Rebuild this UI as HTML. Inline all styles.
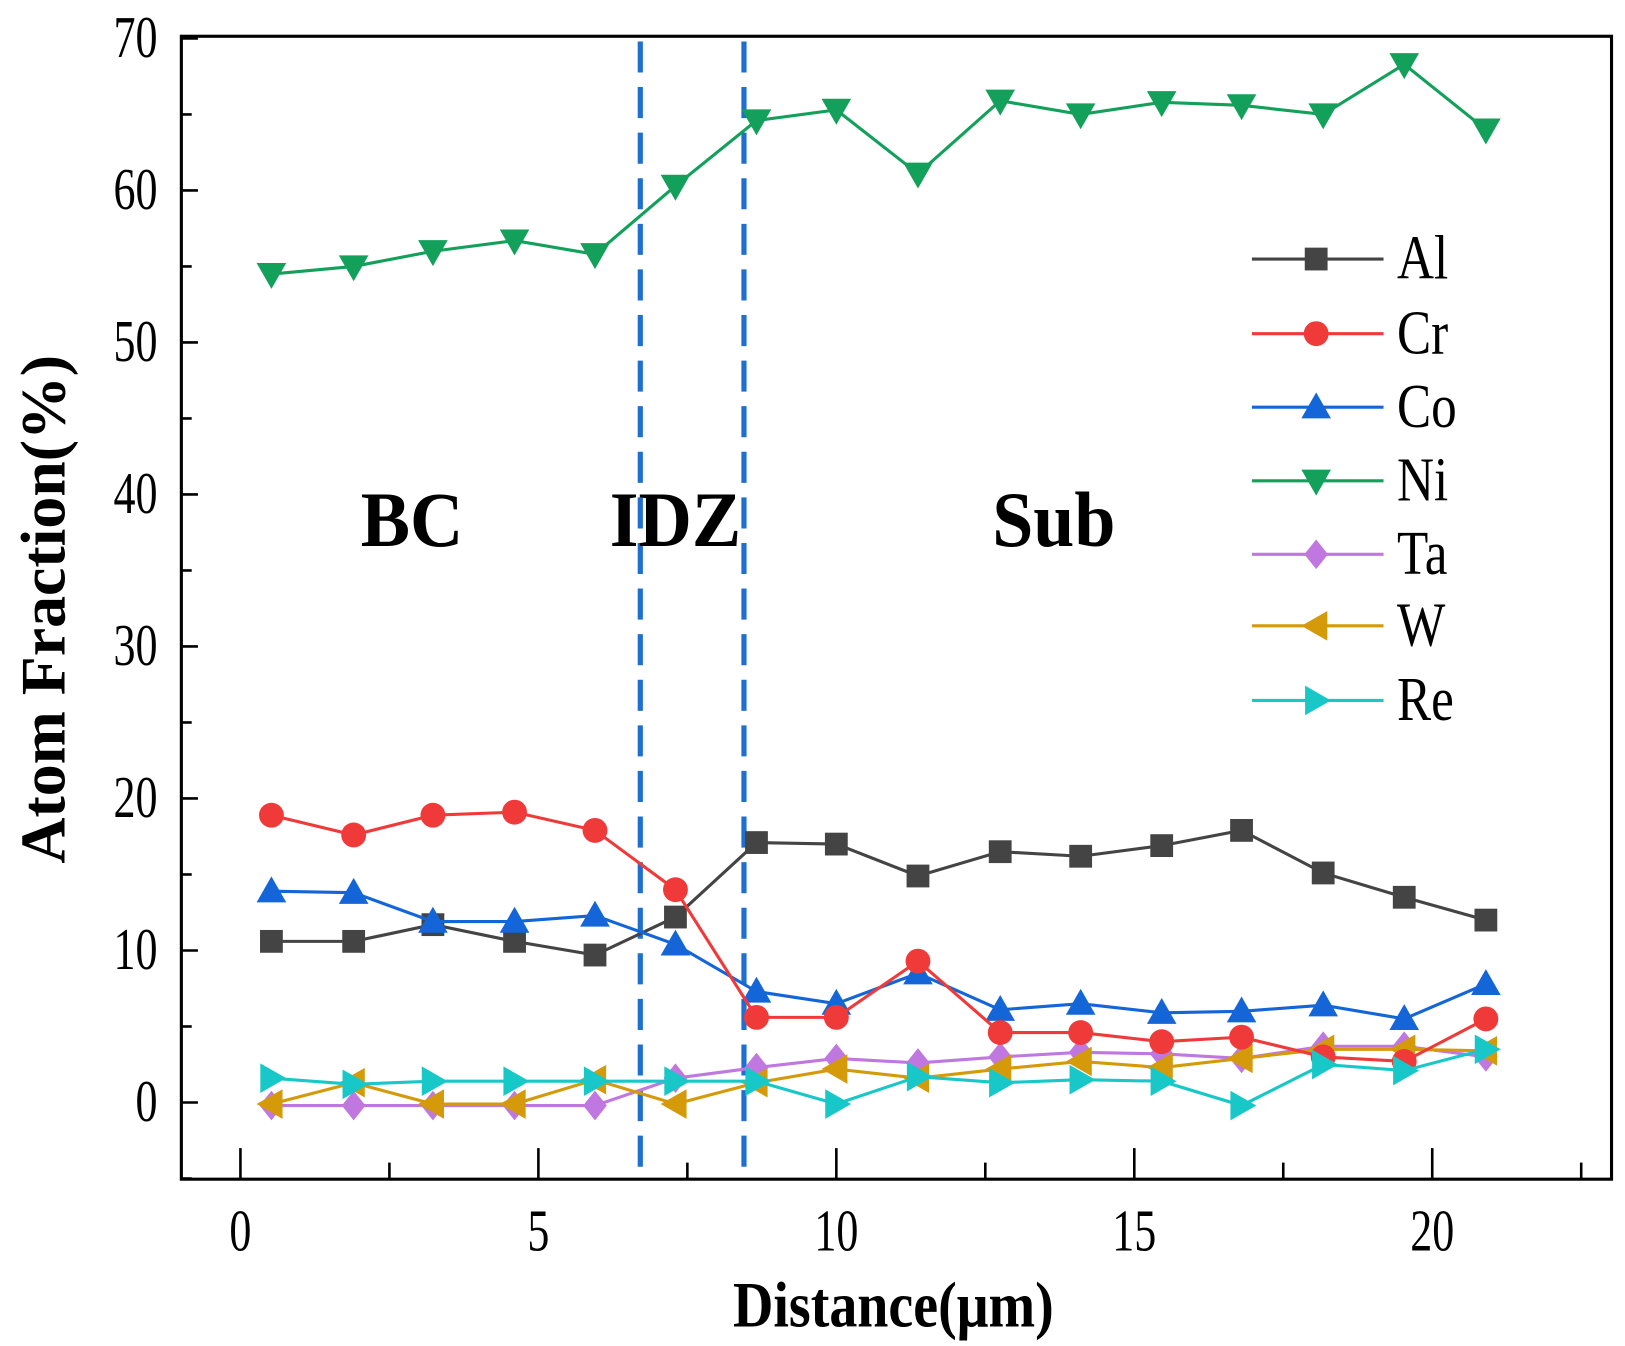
<!DOCTYPE html>
<html><head><meta charset="utf-8"><style>
html,body{margin:0;padding:0;background:#fff;}
svg{display:block;}
text{font-family:"Liberation Serif",serif;}
</style></head><body>
<svg id="chart" width="1625" height="1346" viewBox="0 0 1568 1299" preserveAspectRatio="none" xmlns="http://www.w3.org/2000/svg">
<g id="g"></g>
</svg>
<script>
const xs = [0.52,1.9,3.23,4.6,5.95,7.3,8.66,10.0,11.37,12.75,14.1,15.46,16.8,18.17,19.53,20.9];
const seriesNames = ['Al','Cr','Co','Ni','Ta','W','Re'];
const al = [10.6,10.6,11.7,10.6,9.7,12.2,17.1,17.0,14.9,16.5,16.2,16.9,17.9,15.1,13.5,12.0];
const cr = [18.9,17.6,18.9,19.1,17.9,14.0,5.6,5.6,9.3,4.6,4.6,4.0,4.3,3.0,2.7,5.5];
const co = [13.9,13.8,11.9,11.9,12.3,10.4,7.3,6.5,8.5,6.1,6.5,5.9,6.0,6.4,5.5,7.8];
const ni = [54.5,55.0,56.0,56.7,55.8,60.3,64.6,65.3,61.1,65.9,65.0,65.8,65.6,65.0,68.3,64.0];
const ta = [-0.2,-0.2,-0.2,-0.2,-0.2,1.6,2.3,2.9,2.6,3.0,3.3,3.2,2.9,3.7,3.7,3.0];
const w  = [-0.1,1.3,-0.1,-0.1,1.5,-0.1,1.3,2.2,1.6,2.2,2.7,2.3,2.9,3.5,3.5,3.4];
const re = [1.6,1.2,1.4,1.4,1.4,1.4,1.4,-0.1,1.7,1.3,1.5,1.4,-0.2,2.5,2.1,3.5];
const xTicks = [0,5,10,15,20];
const yTicks = [0,10,20,30,40,50,60,70];
const boundaries = [6.71,8.45];
const regions = [['BC',2.88],['IDZ',7.3],['Sub',13.65]];

const NS='http://www.w3.org/2000/svg';
const g=document.getElementById('g');
const L=175,R=1555,T=35,B=1138;
const X=v=>232+v*57.5;
const Y=v=>1064-v*14.67;
function el(t,a,p){const e=document.createElementNS(NS,t);for(const k in a)e.setAttribute(k,a[k]);(p||g).appendChild(e);return e;}
function stext(x,y,size,anchor,weight,sx,sy,p){
  return el('text',{x:0,y:0,'font-size':size,'text-anchor':anchor,'font-weight':weight,fill:'#000',transform:`translate(${x},${y}) scale(${sx},${sy})`},p);
}

const fr=el('rect',{x:L,y:T,width:R-L,height:B-T,fill:'none',stroke:'#000','stroke-width':3});



for(let v=0;v<=23;v+=2.5){
  const major = Math.abs(v%5)<1e-6;
  const t=el('line',{x1:X(v),x2:X(v),y1:B,y2:B-(major?30:16),stroke:'#000','stroke-width':2.5});
  
  
}
xTicks.forEach(v=>{
  const t=stext(X(v),1207,50,'middle','normal',0.85,1.15);
  t.textContent=v;
  
  
});
for(let v=-5;v<=70;v+=5){
  const major=v%10===0;
  const t=el('line',{x1:L,x2:L+(major?16:10),y1:Y(v),y2:Y(v),stroke:'#000','stroke-width':2.5});
  
  
}
yTicks.forEach(v=>{
  const t=stext(152,Y(v)+18,50,'end','normal',0.85,1.15);
  t.textContent=v;
  
  
});
const xt=stext(862,1280,54,'middle','bold',1.0,1.15);
xt.textContent='Distance(μm)';


const yt=el('text',{x:0,y:0,'font-size':56,'font-weight':'bold','text-anchor':'middle',fill:'#000',transform:'translate(62,588) rotate(-90) scale(1.1,1.1)'});
yt.textContent='Atom Fraction(%)';



boundaries.forEach(v=>{
  const d=el('line',{x1:X(v),x2:X(v),y1:T+5,y2:B,stroke:'#1f6fd0','stroke-width':5,'stroke-dasharray':'30 14'});
  
  
});
regions.forEach(r=>{
  const t=stext(X(r[1]),527,66,'middle','bold',1.08,1.15);
  t.textContent=r[0];
  
  
});

function marker(type,cx,cy,c,s,p){
  let e;
  if(type==='square') e=el('rect',{x:cx-s,y:cy-s,width:2*s,height:2*s,fill:c},p);
  else if(type==='circle') e=el('circle',{cx,cy,r:s+1,fill:c},p);
  else {
    let pts;
    const k=s*1.3;
    if(type==='up') pts=[[cx,cy-k],[cx+k,cy+k*0.75],[cx-k,cy+k*0.75]];
    if(type==='down') pts=[[cx,cy+k],[cx+k,cy-k*0.75],[cx-k,cy-k*0.75]];
    if(type==='left') pts=[[cx-k,cy],[cx+k*0.75,cy-k],[cx+k*0.75,cy+k]];
    if(type==='right') pts=[[cx+k,cy],[cx-k*0.75,cy-k],[cx-k*0.75,cy+k]];
    if(type==='diamond') pts=[[cx,cy-k],[cx+k*0.8,cy],[cx,cy+k],[cx-k*0.8,cy]];
    e=el('polygon',{points:pts.map(q=>q.join(',')).join(' '),fill:c},p);
  }
  return e;
}
const data=[al,cr,co,ni,ta,w,re];
const colors=['#444444','#f03a3a','#1466d8','#12a05a','#c077e0','#d49a0a','#18c8c8'];
const shapes=['square','circle','up','down','diamond','left','right'];
const order=[3,4,5,0,2,1,6];
order.forEach(i=>{
  const grp=el('g',{});
  
  
  const pl=el('polyline',{points:data[i].map((v,j)=>X(xs[j])+','+Y(v)).join(' '),fill:'none',stroke:colors[i],'stroke-width':3},grp);
  
  
  data[i].forEach((v,j)=>{
    const m=marker(shapes[i],X(xs[j]),Y(v),colors[i],11,grp);
    
    
  });
});
const ly=[250,322,393,464,535,604,676];
seriesNames.forEach((n,i)=>{
  const lg=el('g',{});
  
  
  el('line',{x1:1208,x2:1335,y1:ly[i],y2:ly[i],stroke:colors[i],'stroke-width':3},lg);
  marker(shapes[i],1270,ly[i],colors[i],11,lg);
  const t=stext(1348,ly[i]+19,52,'start','normal',0.95,1.15,lg);
  t.textContent=n;
});
</script>
</body></html>
